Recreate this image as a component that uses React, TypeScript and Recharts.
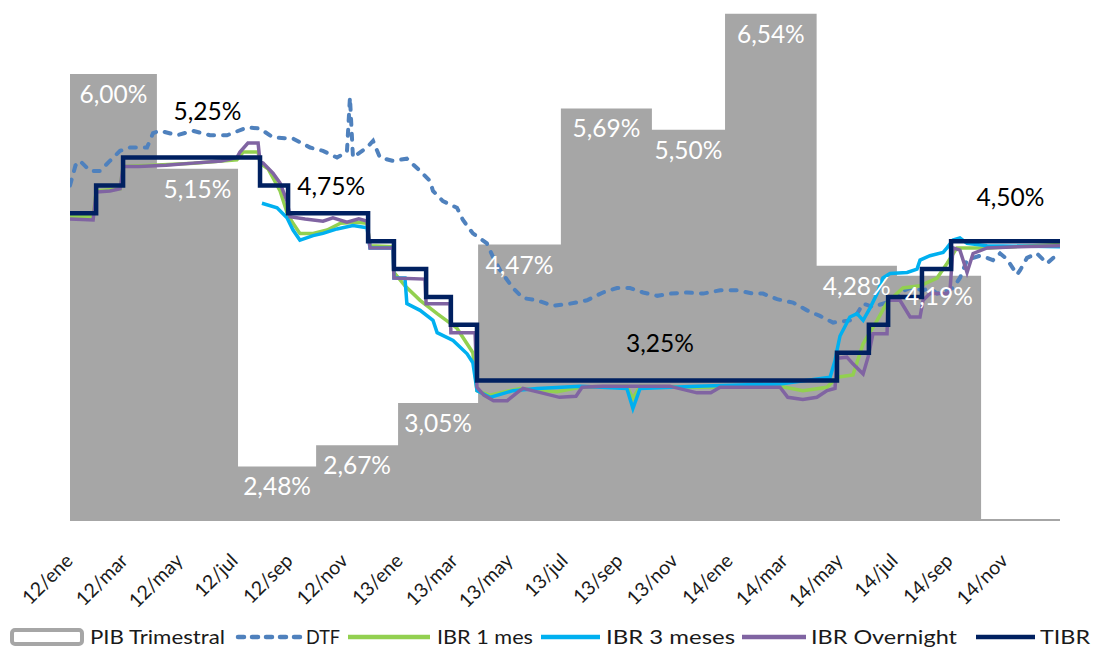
import React from 'react';
import { ComposedChart, Area, Line, XAxis, YAxis, LabelList } from 'recharts';

// months counted from 2012-01-01
const tickMonths = [0, 2, 4, 6, 8, 10, 12, 14, 16, 18, 20, 22, 24, 26, 28, 30, 32, 34];
const tickLabels = [
  '12/ene', '12/mar', '12/may', '12/jul', '12/sep', '12/nov',
  '13/ene', '13/mar', '13/may', '13/jul', '13/sep', '13/nov',
  '14/ene', '14/mar', '14/may', '14/jul', '14/sep', '14/nov',
];

// quarterly GDP: start of each block (last entry = end of last block)
const pibStart = [0, 3.16, 6.11, 8.95, 11.93, 14.84, 17.85, 21.16, 23.82, 27.15, 30.07, 33.13];
const pibValues = [6.0, 5.15, 2.48, 2.67, 3.05, 4.47, 5.69, 5.5, 6.54, 4.28, 4.19];

const tibr: [number, number][] = [
  [0, 4.75], [0.95, 5.0], [1.93, 5.25], [6.91, 5.0], [7.93, 4.75], [10.84, 4.5], [11.78, 4.25],
  [12.95, 4.0], [13.85, 3.75], [14.8, 3.25], [27.89, 3.5], [29.05, 3.75], [29.75, 4.0],
  [30.98, 4.25], [32.04, 4.5], [36, 4.5],
];

const ibrOvernight: [number, number][] = [
  [0, 4.7], [0.84, 4.69], [0.95, 4.94], [1.45, 4.95], [1.82, 4.97], [1.93, 5.17], [2.5, 5.17],
  [3.5, 5.18], [4.47, 5.2], [5.5, 5.22], [6.07, 5.25], [6.18, 5.3], [6.47, 5.38], [6.84, 5.38],
  [6.91, 5.21], [7.02, 5.2], [7.38, 5.11], [7.64, 5.02], [7.89, 4.86], [8.0, 4.72], [8.55, 4.7],
  [9.2, 4.68], [9.56, 4.71], [10.07, 4.67], [10.5, 4.7], [10.8, 4.68], [10.91, 4.44], [11.75, 4.44],
  [11.78, 4.17], [12.91, 4.16], [12.95, 3.94], [13.82, 3.94], [13.85, 3.68], [14.73, 3.68],
  [14.8, 3.19], [15.05, 3.12], [15.4, 3.07], [15.9, 3.07], [16.25, 3.14], [16.47, 3.18],
  [17.15, 3.14], [17.8, 3.1], [18.4, 3.11], [18.62, 3.19], [19.38, 3.2], [20.62, 3.2],
  [21.8, 3.2], [22.8, 3.14], [23.3, 3.14], [23.64, 3.19], [24.84, 3.19], [25.82, 3.19],
  [26.1, 3.1], [26.65, 3.08], [27.16, 3.1], [27.53, 3.16], [27.82, 3.18], [27.89, 3.45],
  [28.25, 3.46], [28.47, 3.4], [28.84, 3.31], [29.02, 3.46], [29.2, 3.67], [29.71, 3.67],
  [29.75, 3.97], [30.18, 3.97], [30.55, 3.82], [30.91, 3.82], [31.02, 3.97], [31.27, 4.03],
  [31.89, 4.03], [32.0, 4.06], [32.11, 4.44], [32.36, 4.42], [32.62, 4.22], [32.84, 4.39],
  [33.35, 4.44], [34.5, 4.45], [36, 4.46],
];

const ibr1m: [number, number][] = [
  [0, 4.72], [0.84, 4.72], [0.95, 4.95], [1.82, 4.97], [1.93, 5.17], [3.0, 5.18], [4.5, 5.2],
  [6.07, 5.23], [6.3, 5.3], [6.84, 5.3], [6.91, 5.2], [7.2, 5.15], [7.64, 4.95], [7.9, 4.75],
  [8.11, 4.66], [8.36, 4.57], [8.84, 4.57], [9.35, 4.6], [9.82, 4.66], [10.44, 4.67], [10.8, 4.66],
  [10.91, 4.46], [11.75, 4.45], [11.78, 4.22], [12.18, 4.1], [12.73, 3.97], [13.35, 3.85],
  [14.07, 3.72], [14.65, 3.5], [14.8, 3.16], [15.27, 3.12], [16.36, 3.18], [17.71, 3.15],
  [18.55, 3.19], [20.25, 3.2], [20.47, 3.09], [20.73, 3.2], [22.8, 3.19], [25.82, 3.2],
  [26.65, 3.16], [27.53, 3.19], [27.89, 3.28], [28.47, 3.3], [28.84, 3.58], [29.35, 3.79],
  [29.71, 3.95], [30.29, 4.08], [30.91, 4.1], [31.53, 4.17], [31.89, 4.3], [32.25, 4.44],
  [33.35, 4.44], [36, 4.47],
];

const ibr3m: [number, number][] = [
  [6.98, 4.84], [7.53, 4.8], [7.89, 4.71], [8.11, 4.6], [8.36, 4.51], [8.84, 4.55], [9.2, 4.57],
  [9.71, 4.61], [10.29, 4.64], [10.8, 4.62], [10.91, 4.44], [11.75, 4.44], [11.78, 4.17],
  [12.18, 4.17], [12.25, 3.94], [12.73, 3.88], [13.2, 3.79], [13.35, 3.68], [13.93, 3.61],
  [14.44, 3.49], [14.65, 3.41], [14.8, 3.16], [15.27, 3.1], [16.11, 3.16], [17.0, 3.18],
  [18.55, 3.2], [20.25, 3.18], [20.47, 3.0], [20.73, 3.18], [22.8, 3.2], [25.82, 3.22],
  [27.64, 3.28], [27.82, 3.43], [27.89, 3.52], [28.0, 3.65], [28.36, 3.82], [28.62, 3.85],
  [28.84, 3.79], [29.09, 3.9], [29.35, 4.03], [29.56, 4.17], [29.82, 4.21], [30.44, 4.22],
  [30.8, 4.25], [30.91, 4.33], [31.27, 4.37], [31.75, 4.4], [31.89, 4.44], [32.11, 4.51],
  [32.36, 4.53], [32.62, 4.48], [33.35, 4.46], [36, 4.45],
];

const dtf: [number, number][] = [
  [0, 5.0], [0.2, 5.18], [0.36, 5.22], [0.73, 5.13], [1.09, 5.13], [1.45, 5.22], [1.82, 5.31],
  [2.18, 5.34], [2.8, 5.34], [3.02, 5.47], [3.27, 5.49], [3.89, 5.45], [4.47, 5.49], [5.09, 5.45],
  [5.71, 5.45], [6.44, 5.52], [6.91, 5.51], [7.38, 5.43], [8.11, 5.42], [8.73, 5.34], [9.2, 5.31],
  [9.71, 5.25], [10.07, 5.3], [10.18, 5.79], [10.29, 5.25], [10.8, 5.34], [11.02, 5.4],
  [11.27, 5.25], [11.75, 5.22], [12.25, 5.24], [12.73, 5.13], [13.09, 5.04], [13.2, 4.95],
  [13.56, 4.86], [14.07, 4.8], [14.29, 4.69], [14.65, 4.57], [15.16, 4.48], [15.38, 4.36],
  [15.64, 4.24], [16.11, 4.08], [16.47, 3.99], [16.98, 3.97], [17.56, 3.92], [18.18, 3.94],
  [18.8, 3.97], [19.38, 4.04], [19.89, 4.08], [20.36, 4.08], [20.84, 4.04], [21.35, 4.01],
  [21.82, 4.03], [22.44, 4.04], [23.02, 4.03], [23.64, 4.06], [24.25, 4.06], [24.84, 4.03],
  [25.2, 4.03], [25.71, 3.98], [26.29, 3.95], [26.8, 3.88], [27.27, 3.83], [27.75, 3.77],
  [28.36, 3.79], [28.62, 3.85], [28.84, 3.94], [29.2, 3.91], [29.93, 3.97], [30.18, 4.04],
  [30.55, 4.08], [31.02, 4.06], [31.27, 4.08], [31.53, 4.03], [32.11, 4.08], [32.36, 4.17],
  [32.62, 4.33], [32.84, 4.35], [33.09, 4.37], [33.35, 4.35], [33.56, 4.33], [33.82, 4.39],
  [34.07, 4.34], [34.44, 4.2], [34.55, 4.24], [34.8, 4.35], [35.16, 4.39], [35.53, 4.3],
  [35.75, 4.35], [36, 4.37],
];

// where the black TIBR level labels sit (month) and how far above the line
const tibrLabelMonths = [5.0, 9.5, 21.45, 34.2];
const tibrLabelLift = [47, 27, 38, 44];

const C = {
  pib: '#A6A6A6',
  dtf: '#4F81BD',
  ibr1m: '#92D050',
  ibr3m: '#00B0F0',
  overnight: '#8064A2',
  tibr: '#002060',
};
const FONT = 'Lato, "Open Sans", sans-serif';

const rows = (pts: [number, number][]) => pts.map(([x, v]) => ({ x, v }));
const pct = (v: number) => v.toFixed(2).replace('.', ',') + '%';

const pibRows = [
  ...pibValues.map((v, i) => ({ x: pibStart[i], v })),
  { x: pibStart[pibStart.length - 1], v: pibValues[pibValues.length - 1] },
];
const pibLabelRows = pibValues.map((v, i) => ({ x: (pibStart[i] + pibStart[i + 1]) / 2, v }));

const tibrAt = (m: number) => {
  let val = tibr[0][1];
  for (const [x, v] of tibr) if (x <= m) val = v;
  return val;
};
const tibrLabelRows = tibrLabelMonths.map((m) => ({ x: m, v: tibrAt(m) }));

const MonthTick = (props: any) => {
  const { x, y, payload } = props;
  const i = tickMonths.indexOf(payload.value);
  const ax = x + 4;
  const ay = y + 34;
  return (
    <text x={ax} y={ay} transform={`rotate(-45, ${ax}, ${ay})`} textAnchor="end"
      fontSize={19.5} fontFamily={FONT} fill="#1a1a1a">
      {tickLabels[i]}
    </text>
  );
};

const PibLabel = (props: any) => {
  const { x, y, value } = props;
  return (
    <text x={x} y={y + 29} textAnchor="middle" fontSize={24.5} fontFamily={FONT} fill="#ffffff">
      {pct(value)}
    </text>
  );
};

const TibrLabel = (props: any) => {
  const { x, y, value, index } = props;
  return (
    <text x={x} y={y - tibrLabelLift[index] + 9} textAnchor="middle" fontSize={24.5}
      fontFamily={FONT} fill="#000000">
      {pct(value)}
    </text>
  );
};

const legendItems = [
  { name: 'PIB Trimestral', kind: 'box', color: C.pib, x0: 12, x1: 82, tx: 90, tw: 135 },
  { name: 'DTF', kind: 'dash', color: C.dtf, x0: 238, x1: 300, tx: 306, tw: 34 },
  { name: 'IBR 1 mes', kind: 'line', color: C.ibr1m, x0: 348, x1: 430, tx: 437, tw: 96 },
  { name: 'IBR 3 meses', kind: 'line', color: C.ibr3m, x0: 541, x1: 600, tx: 606, tw: 129 },
  { name: 'IBR Overnight', kind: 'line', color: C.overnight, x0: 742, x1: 806, tx: 811, tw: 146 },
  { name: 'TIBR', kind: 'line', color: C.tibr, x0: 976, x1: 1035, tx: 1040, tw: 50 },
];

const ChartLegend = () => (
  <svg width={1096} height={30} style={{ position: 'absolute', left: 0, top: 622 }}>
    {legendItems.map((it) => (
      <g key={it.name}>
        {it.kind === 'box' && (
          <rect x={it.x0} y={8} width={it.x1 - it.x0} height={14} rx={3}
            fill="#ffffff" stroke={it.color} strokeWidth={4} />
        )}
        {it.kind === 'dash' && (
          <line x1={it.x0} x2={it.x1} y1={15} y2={15} stroke={it.color} strokeWidth={4.5}
            strokeDasharray="6 8" strokeLinecap="round" />
        )}
        {it.kind === 'line' && (
          <line x1={it.x0} x2={it.x1} y1={15} y2={15} stroke={it.color} strokeWidth={4.5} />
        )}
        <text x={it.tx} y={22} fontSize={20} fontFamily={FONT} fill="#1a1a1a"
          textLength={it.tw} lengthAdjust="spacingAndGlyphs">
          {it.name}
        </text>
      </g>
    ))}
  </svg>
);

export default function App() {
  return (
    <div style={{ position: 'absolute', left: 0, top: 0, width: 1096, height: 652, background: '#fff' }}>
      <ComposedChart width={1096} height={652} margin={{ top: 7, right: 36, bottom: 72, left: 70 }}>
        <XAxis type="number" dataKey="x" domain={[0, 36]} ticks={tickMonths} interval={0}
          allowDataOverflow tickLine={false} height={60}
          axisLine={{ stroke: '#A6A6A6', strokeWidth: 2 }} tick={<MonthTick />} />
        <YAxis hide type="number" domain={[2, 6.6]} allowDataOverflow />
        <Area data={pibRows} dataKey="v" type="stepAfter" fill={C.pib} fillOpacity={1}
          stroke="none" isAnimationActive={false} />
        <Line data={rows(dtf)} dataKey="v" type="linear" stroke={C.dtf} strokeWidth={4}
          strokeDasharray="6 9" strokeLinecap="round" dot={false} isAnimationActive={false} />
        <Line data={rows(ibr1m)} dataKey="v" type="linear" stroke={C.ibr1m} strokeWidth={3.5}
          dot={false} isAnimationActive={false} />
        <Line data={rows(ibr3m)} dataKey="v" type="linear" stroke={C.ibr3m} strokeWidth={3.5}
          dot={false} isAnimationActive={false} />
        <Line data={rows(ibrOvernight)} dataKey="v" type="linear" stroke={C.overnight}
          strokeWidth={3.5} dot={false} isAnimationActive={false} />
        <Line data={rows(tibr)} dataKey="v" type="stepAfter" stroke={C.tibr} strokeWidth={4.5}
          dot={false} isAnimationActive={false} />
        <Line data={pibLabelRows} dataKey="v" stroke="none" dot={false} isAnimationActive={false}>
          <LabelList dataKey="v" content={<PibLabel />} />
        </Line>
        <Line data={tibrLabelRows} dataKey="v" stroke="none" dot={false} isAnimationActive={false}>
          <LabelList dataKey="v" content={<TibrLabel />} />
        </Line>
      </ComposedChart>
      <ChartLegend />
    </div>
  );
}
